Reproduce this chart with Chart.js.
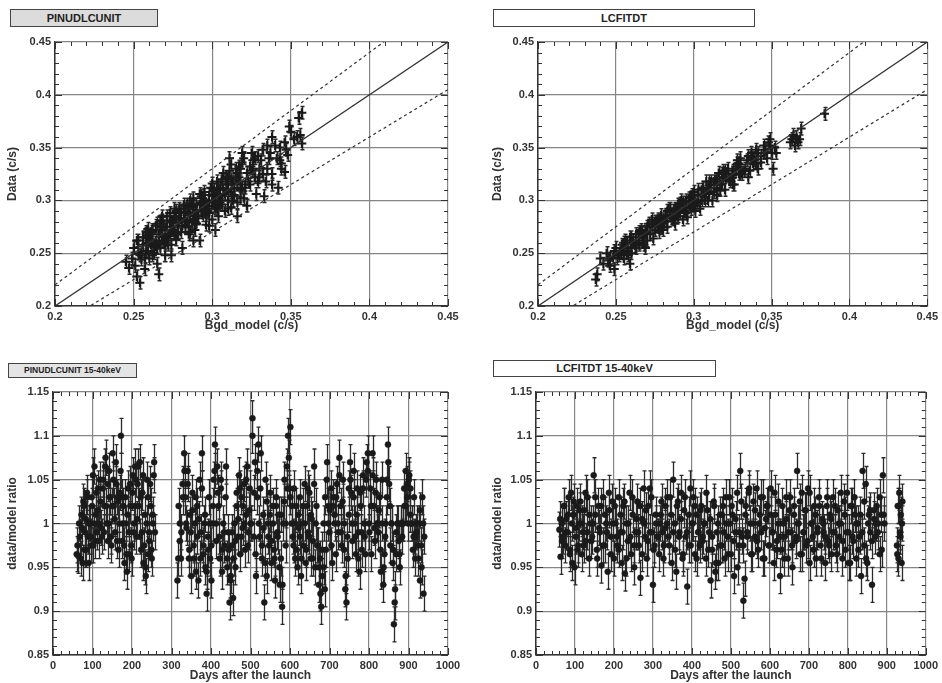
<!DOCTYPE html>
<html>
<head>
<meta charset="utf-8">
<script src="https://cdn.jsdelivr.net/npm/chart.js@4"></script>
<style>
body { margin: 0; background: #fff; width: 942px; height: 683px; position: relative; overflow: hidden; font-family: "Liberation Sans", Arial, sans-serif; }
.box { position: absolute; border: 1px solid #444; font-weight: bold; text-align: center; color: #222; box-sizing: border-box; white-space: nowrap; }
canvas { position: absolute; }
</style>
</head>
<body>
<div class="box" style="left:10px;top:9px;width:148px;height:18px;background:#dcdcdc;font-size:11px;line-height:16px">PINUDLCUNIT</div>
<div class="box" style="left:493px;top:9px;width:262px;height:18px;background:#fff;font-size:11px;line-height:16px">LCFITDT</div>
<div class="box" style="left:8px;top:363px;width:129px;height:15px;background:#e4e4e4;font-size:8.5px;line-height:13px">PINUDLCUNIT 15-40keV</div>
<div class="box" style="left:493px;top:360px;width:223px;height:17px;background:#fff;font-size:11px;line-height:15px">LCFITDT 15-40keV</div>

<canvas id="tl" width="471" height="303" style="left:0;top:30px"></canvas>
<canvas id="tr" width="452" height="303" style="left:490px;top:30px"></canvas>
<canvas id="bl" width="471" height="303" style="left:0;top:380px"></canvas>
<canvas id="br" width="452" height="303" style="left:490px;top:380px"></canvas>

<script>
// tick values
const bgdTicks = [0.2, 0.25, 0.3, 0.35, 0.4, 0.45];
const dayTicks = [0, 100, 200, 300, 400, 500, 600, 700, 800, 900, 1000];
const ratioTicks = [0.85, 0.9, 0.95, 1, 1.05, 1.1, 1.15];

// reference lines: data = slope * model
const refX = [0.2, 0.45];
const refSlopes = [1, 1.1, 0.9];

// PINUDLCUNIT: model vs data (c/s)
const modelTL = [0.245,0.247,0.249,0.251,0.252,0.253,0.254,0.255,0.256,0.257,0.258,0.259,0.260,0.261,0.262,0.263,0.264,0.265,0.266,0.267,0.268,0.269,0.270,0.271,0.272,0.273,0.274,0.275,0.276,0.277,0.278,0.279,0.280,0.281,0.282,0.283,0.284,0.285,0.286,0.287,0.288,0.289,0.290,0.291,0.292,0.293,0.294,0.295,0.296,0.297,0.298,0.299,0.300,0.301,0.302,0.303,0.304,0.305,0.306,0.307,0.308,0.309,0.310,0.311,0.312,0.313,0.314,0.315,0.316,0.317,0.318,0.319,0.320,0.322,0.324,0.326,0.328,0.330,0.332,0.334,0.336,0.338,0.340,0.342,0.344,0.346,0.348,0.350,0.352,0.355,0.356,0.357,0.357,0.322,0.333,0.316,0.302,0.288,0.274,0.266,0.270,0.275,0.280,0.285,0.290,0.295,0.300,0.305,0.310,0.276,0.283,0.293,0.298,0.304,0.312,0.262,0.258,0.268,0.278,0.288,0.296,0.306,0.318,0.327,0.335,0.343,0.338,0.346,
  0.250,0.252,0.254,0.256,0.258,0.260,0.262,0.264,0.266,0.268,0.270,0.272,0.274,0.276,0.278,0.280,0.282,0.284,0.286,0.288,0.290,0.292,0.294,0.296,0.298,0.300,0.302,0.304,0.306,0.308,0.310,0.312,0.314,0.316,0.318,0.320,0.323,0.326,0.329,0.332,0.335,0.338,0.341,0.344,0.347,0.253,0.257,0.261,0.265,0.269,0.273,0.277,0.281,0.285,0.289,0.293,0.297,0.301,0.305,0.309,0.313,0.317,0.321,0.325,0.329,0.259,0.263,0.267,0.271,0.279,0.287,0.295,0.303,0.311,0.319,
  0.255,0.258,0.261,0.264,0.267,0.270,0.273,0.276,0.279,0.282,0.285,0.288,0.291,0.294,0.297,0.300,0.303,0.306,0.309,0.312,0.315,0.318,0.321,0.324,0.327,0.330,0.256,0.259,0.262,0.265,0.268,0.271,0.274,0.277,0.280,0.283,0.286,0.289,0.292,0.295,0.298,0.301,0.304,0.307,0.310,0.313,0.316,0.319,0.325,0.331,0.337,0.343,0.349,0.354];
const dataTL = [0.242,0.236,0.245,0.238,0.228,0.250,0.222,0.244,0.258,0.235,0.252,0.266,0.245,0.258,0.272,0.250,0.262,0.240,0.268,0.255,0.281,0.262,0.248,0.275,0.266,0.288,0.258,0.272,0.284,0.263,0.276,0.292,0.270,0.255,0.283,0.275,0.296,0.268,0.286,0.279,0.302,0.272,0.291,0.283,0.262,0.298,0.286,0.308,0.277,0.295,0.288,0.312,0.282,0.300,0.293,0.318,0.285,0.305,0.296,0.326,0.290,0.310,0.300,0.340,0.293,0.318,0.305,0.330,0.298,0.322,0.310,0.345,0.302,0.326,0.315,0.338,0.306,0.330,0.348,0.318,0.340,0.325,0.352,0.312,0.335,0.355,0.343,0.365,0.358,0.378,0.362,0.354,0.383,0.295,0.304,0.285,0.272,0.262,0.248,0.230,0.266,0.279,0.282,0.288,0.296,0.300,0.305,0.311,0.315,0.270,0.289,0.291,0.298,0.300,0.320,0.262,0.260,0.272,0.268,0.282,0.292,0.318,0.330,0.322,0.330,0.350,0.360,0.327,
  0.255,0.262,0.248,0.265,0.270,0.262,0.248,0.276,0.260,0.285,0.272,0.258,0.280,0.292,0.268,0.289,0.296,0.280,0.270,0.294,0.278,0.306,0.298,0.286,0.276,0.316,0.304,0.296,0.320,0.306,0.292,0.334,0.312,0.326,0.302,0.340,0.318,0.330,0.342,0.325,0.352,0.315,0.340,0.330,0.348,0.262,0.246,0.268,0.255,0.278,0.268,0.285,0.276,0.294,0.280,0.304,0.290,0.310,0.298,0.322,0.304,0.332,0.315,0.345,0.318,0.273,0.256,0.280,0.262,0.288,0.295,0.305,0.292,0.328,0.312,
  0.250,0.268,0.262,0.256,0.275,0.258,0.280,0.268,0.282,0.292,0.275,0.295,0.285,0.302,0.292,0.298,0.310,0.300,0.318,0.308,0.322,0.318,0.312,0.332,0.340,0.322,0.265,0.252,0.270,0.278,0.265,0.285,0.272,0.290,0.288,0.280,0.300,0.288,0.296,0.290,0.305,0.295,0.312,0.310,0.322,0.300,0.315,0.336,0.328,0.338,0.345,0.338,0.370,0.360];

// LCFITDT: model vs data (c/s)
const modelTR = [0.237,0.238,0.240,0.242,0.244,0.246,0.248,0.249,0.250,0.252,0.254,0.255,0.256,0.258,0.259,0.260,0.262,0.263,0.265,0.266,0.268,0.269,0.270,0.272,0.273,0.275,0.276,0.278,0.279,0.280,0.282,0.283,0.284,0.286,0.287,0.288,0.290,0.291,0.292,0.294,0.295,0.296,0.298,0.299,0.300,0.302,0.303,0.304,0.306,0.307,0.308,0.310,0.311,0.312,0.314,0.315,0.316,0.318,0.319,0.320,0.322,0.323,0.325,0.326,0.328,0.329,0.330,0.332,0.334,0.335,0.337,0.338,0.340,0.341,0.343,0.345,0.347,0.348,0.350,0.351,0.352,0.362,0.364,0.365,0.366,0.368,0.369,0.384,0.260,0.265,0.270,0.275,0.280,0.285,0.290,0.295,0.300,0.305,0.310,0.315,0.320,0.325,0.330,0.257,0.267,0.277,0.289,0.297,0.309,0.317,0.327,0.336,0.246,0.253,0.274,0.293,0.301,0.313,
  0.245,0.249,0.253,0.257,0.261,0.265,0.269,0.273,0.277,0.281,0.285,0.289,0.293,0.297,0.301,0.305,0.309,0.313,0.317,0.321,0.325,0.329,0.333,0.337,0.341,0.345,0.349,0.251,0.255,0.259,0.263,0.267,0.271,0.279,0.283,0.287,0.291,0.295,0.299,0.303,0.307,0.311,0.315,0.319,0.323,0.327,0.331,0.339,0.346,0.363,0.367,
  0.255,0.260,0.265,0.270,0.275,0.280,0.285,0.290,0.295,0.300,0.305,0.310,0.315,0.320,0.325,0.330,0.335,0.340,0.258,0.263,0.268,0.273,0.278,0.283,0.288,0.293,0.298,0.303,0.308,0.313,0.318,0.323,0.328,0.333,0.338,0.343,0.349,0.353];
const dataTR = [0.225,0.230,0.245,0.240,0.250,0.238,0.246,0.235,0.255,0.248,0.258,0.245,0.262,0.252,0.240,0.265,0.257,0.268,0.260,0.272,0.265,0.255,0.275,0.268,0.282,0.272,0.280,0.270,0.286,0.278,0.285,0.275,0.292,0.283,0.290,0.278,0.296,0.288,0.300,0.290,0.298,0.284,0.303,0.295,0.308,0.298,0.305,0.292,0.312,0.303,0.318,0.306,0.315,0.300,0.320,0.312,0.326,0.315,0.322,0.310,0.330,0.320,0.328,0.315,0.335,0.325,0.340,0.328,0.338,0.322,0.345,0.335,0.348,0.330,0.342,0.352,0.340,0.355,0.345,0.330,0.350,0.355,0.362,0.352,0.360,0.358,0.368,0.382,0.255,0.265,0.268,0.278,0.282,0.286,0.290,0.293,0.300,0.305,0.312,0.318,0.322,0.324,0.332,0.250,0.262,0.275,0.285,0.296,0.300,0.310,0.330,0.328,0.245,0.252,0.264,0.282,0.290,0.308,
  0.243,0.252,0.250,0.260,0.262,0.258,0.270,0.275,0.282,0.280,0.290,0.292,0.295,0.302,0.298,0.310,0.312,0.318,0.315,0.325,0.322,0.335,0.330,0.340,0.345,0.345,0.352,0.245,0.255,0.265,0.255,0.270,0.278,0.274,0.290,0.282,0.297,0.288,0.305,0.300,0.300,0.318,0.310,0.328,0.318,0.332,0.325,0.338,0.348,0.358,0.355,
  0.260,0.250,0.270,0.262,0.280,0.272,0.292,0.285,0.300,0.295,0.300,0.318,0.305,0.328,0.315,0.325,0.342,0.335,0.248,0.268,0.258,0.278,0.282,0.280,0.292,0.298,0.292,0.310,0.308,0.315,0.325,0.318,0.338,0.330,0.340,0.336,0.358,0.345];

// PINUDLCUNIT 15-40keV: days vs data/model ratio
const daysBL = [60,64,68,72,75,78,81,84,87,90,93,96,99,102,105,108,111,114,117,120,124,127,130,133,136,139,142,145,148,151,154,157,160,163,166,169,172,175,178,181,184,187,190,193,196,199,202,205,208,211,214,217,220,223,226,229,232,235,238,241,244,247,250,253,256,258,
  315,318,321,324,328,332,335,338,341,344,347,350,353,356,359,362,365,368,371,374,377,380,383,386,389,392,395,398,401,404,407,410,413,416,419,422,425,428,431,434,438,441,444,447,450,453,456,459,462,465,468,471,474,477,480,483,486,489,492,495,498,501,505,508,511,514,517,520,523,526,529,532,535,538,541,544,547,550,553,556,559,562,565,568,571,574,577,580,583,586,589,592,595,598,601,604,607,610,613,616,619,622,625,628,631,634,637,640,643,646,649,652,655,658,661,664,667,670,673,676,679,682,685,688,691,694,697,700,704,707,710,713,716,719,722,725,728,731,734,737,740,743,746,749,752,755,758,761,764,767,770,773,776,779,782,785,788,791,794,797,800,803,806,809,812,815,818,821,824,827,830,833,836,839,842,845,848,851,854,857,860,863,866,869,872,875,878,881,884,887,890,893,896,899,902,905,908,911,914,917,920,923,926,929,932,935,938,940];
const ratioBL = [0.965,0.963,0.985,1.01,0.955,1.02,0.99,0.97,1.03,0.955,1.0,0.985,1.02,0.975,1.065,1.01,0.99,1.04,1.0,1.025,0.985,1.05,1.02,1.075,1.0,0.98,1.06,1.03,0.975,1.08,1.02,0.99,1.045,1.03,0.97,1.035,1.10,0.98,1.02,0.955,1.0,0.945,1.04,0.965,1.02,0.96,1.055,1.0,1.065,0.985,1.045,1.02,1.07,0.97,1.035,0.955,1.01,0.94,1.05,0.965,0.98,1.02,0.96,1.0,1.07,0.99,
  0.935,1.02,0.98,0.96,1.045,1.08,1.03,0.995,1.06,0.96,1.01,0.94,1.035,0.975,1.0,0.945,1.02,0.935,1.05,0.99,1.08,0.965,1.0,0.95,0.92,0.985,1.03,0.96,0.935,1.0,1.05,1.09,0.98,1.065,1.02,0.96,1.04,0.945,1.0,0.975,1.065,0.96,0.99,0.91,0.94,0.975,0.915,1.0,0.95,1.02,0.985,1.055,0.965,1.03,0.995,1.045,0.97,1.01,1.065,0.99,1.04,1.0,1.12,0.985,1.07,0.94,1.03,1.09,0.985,1.08,0.96,1.01,0.91,1.05,0.94,1.0,0.975,1.035,0.955,1.02,0.97,0.935,1.03,0.99,1.01,0.93,0.96,0.905,1.0,1.05,0.975,1.065,1.1,1.04,1.11,1.0,0.985,1.04,0.96,1.02,0.95,0.995,1.03,0.94,1.0,0.975,1.045,0.955,1.02,0.99,1.035,0.96,1.005,0.98,1.065,0.95,1.02,0.975,0.93,0.96,0.905,0.94,1.0,0.925,0.97,1.07,1.02,0.99,1.04,0.955,1.03,1.0,0.965,1.045,0.99,1.075,1.02,0.975,1.05,1.0,0.925,0.91,0.96,1.01,1.07,1.035,0.98,1.06,1.0,0.965,1.04,0.99,0.945,1.02,0.97,1.055,1.0,0.965,1.07,1.08,1.0,1.04,0.965,1.08,1.02,0.98,1.05,1.0,0.99,1.03,0.945,1.05,0.93,0.965,1.0,1.05,1.09,1.045,0.975,1.0,0.955,0.885,0.925,0.965,1.0,0.98,0.95,1.0,0.985,1.0,1.02,1.06,1.045,1.0,1.055,1.04,1.0,0.97,1.03,0.96,0.99,0.975,1.0,0.935,0.975,1.03,0.92,0.985];
const daysBL2 = [62,66,70,74,77,80,83,86,89,92,95,98,101,104,107,110,113,116,119,122,126,129,132,135,138,141,144,147,150,153,156,159,162,165,168,171,174,177,180,183,186,189,192,195,198,201,204,207,210,213,216,219,222,225,228,231,234,237,240,243,246,249,252,255,
  317,321,325,329,333,337,341,345,349,353,357,361,365,369,373,377,381,385,389,393,397,401,405,409,413,417,421,425,429,433,437,441,445,449,453,457,461,465,469,473,477,481,485,489,493,497,501,505,509,513,517,521,525,529,533,537,541,545,549,553,557,561,565,569,573,577,581,585,589,593,597,601,605,609,613,617,621,625,629,633,637,641,645,649,653,657,661,665,669,673,677,681,685,689,693,697,701,705,709,713,717,721,725,729,733,737,741,745,749,753,757,761,765,769,773,777,781,785,789,793,797,801,805,809,813,817,821,825,829,833,837,841,845,849,853,857,861,865,869,873,877,881,885,889,893,897,901,905,909,913,917,921,925,929,933,937];
const ratioBL2 = [0.975,1.0,0.96,0.995,1.025,0.97,1.005,1.035,0.985,1.0,0.975,1.03,1.055,1.0,0.98,1.035,1.015,0.98,1.05,0.995,1.04,0.99,1.065,1.02,1.045,1.0,1.03,0.985,1.02,1.05,1.005,1.07,0.98,1.025,1.0,1.06,1.03,1.0,0.975,1.03,0.965,1.01,0.99,1.045,0.975,1.035,0.99,1.02,1.05,1.005,1.065,0.985,1.03,0.99,1.055,0.975,0.95,1.0,1.03,0.99,1.045,0.97,1.01,1.055,
  0.96,1.0,0.99,1.03,1.06,1.0,1.045,0.97,0.99,1.015,
  0.96,1.03,0.985,1.005,0.96,1.04,0.975,1.01,0.945,0.97,
  1.0,0.975,1.02,1.06,1.0,1.035,0.985,1.05,0.97,0.99,
  1.03,0.95,0.97,0.935,0.99,0.96,0.98,1.035,1.005,1.04,
  0.985,1.02,1.0,1.05,0.975,1.015,1.0,1.1,1.035,0.965,
  1.06,1.0,1.04,0.975,0.995,0.955,1.025,0.985,1.01,0.98,
  1.0,0.96,1.02,0.985,0.95,1.01,0.93,1.025,1.0,1.04,
  1.075,1.03,1.02,0.975,1.0,0.97,1.01,0.985,0.96,1.02,
  1.0,0.97,1.04,0.985,1.01,0.96,1.045,1.0,0.975,0.95,
  0.92,0.97,0.95,1.03,1.05,1.0,1.015,0.975,1.02,1.01,
  1.03,1.0,1.055,0.99,1.025,0.97,0.94,0.985,1.04,1.05,
  1.0,1.03,0.985,1.01,0.96,1.035,0.99,1.04,0.985,1.05,
  1.06,0.99,1.02,1.055,0.995,1.035,1.0,1.015,0.97,1.0,
  0.95,0.985,1.03,1.07,1.02,1.0,0.97,0.91,0.99,1.0,
  0.965,1.0,1.0,1.04,1.02,1.03,1.05,1.01,1.0,0.985,
  0.985,1.0,0.96,1.015,0.95,1.0];

// LCFITDT 15-40keV: days vs data/model ratio
const daysBR = [60,63,66,69,72,75,78,81,84,87,90,93,96,99,102,105,108,111,114,117,120,124,128,132,136,140,144,148,152,156,160,164,168,172,176,180,184,188,192,196,200,204,208,212,216,220,224,228,232,236,240,244,248,252,256,260,264,268,272,276,280,284,288,292,296,300,304,308,312,316,320,324,328,332,336,340,344,348,352,356,360,364,368,372,376,380,384,388,392,396,400,404,408,412,416,420,424,428,432,436,440,444,448,452,456,460,464,468,472,476,480,484,488,492,496,500,504,508,512,516,520,524,528,532,535,538,542,546,550,554,558,562,566,570,574,578,582,586,590,594,598,602,606,610,614,618,622,626,630,634,638,642,646,650,654,658,662,666,670,674,678,682,686,690,694,698,702,706,710,714,718,722,726,730,734,738,742,746,750,754,758,762,766,770,774,778,782,786,790,794,798,802,806,810,814,818,822,826,830,834,838,842,846,850,854,858,862,866,870,874,878,882,886,890,894,926,928,930,932,934,936,938,940];
const ratioBR = [0.993,0.962,1.0,0.985,1.02,0.975,1.005,0.99,1.03,0.97,1.035,0.955,1.01,0.95,0.995,1.02,0.975,1.0,1.025,0.965,0.99,1.015,0.98,1.03,0.96,1.0,0.985,1.055,1.01,0.97,1.02,0.99,0.952,1.03,0.975,1.0,0.945,1.015,0.985,1.025,0.96,1.0,0.975,1.03,0.99,0.955,1.02,0.943,1.0,0.98,1.035,0.965,1.01,0.95,0.99,1.025,0.975,0.938,1.005,1.04,0.985,0.96,1.02,0.99,1.03,0.93,0.975,1.0,0.985,0.965,1.01,0.99,0.975,1.02,1.0,0.985,1.03,0.955,1.05,1.0,0.945,1.025,0.99,1.035,0.96,1.015,0.985,0.928,0.975,1.04,1.0,1.03,0.965,1.01,0.99,0.975,1.02,0.985,1.0,0.96,1.015,0.99,0.935,0.97,1.025,0.945,0.99,0.955,1.01,0.975,1.02,0.96,1.0,0.985,1.03,0.965,1.01,0.94,0.99,1.035,0.975,1.06,0.985,0.912,0.937,1.02,0.99,1.035,1.0,0.965,1.025,0.985,1.04,0.97,1.01,0.99,1.03,0.96,1.005,1.02,0.975,1.04,0.99,0.955,1.01,0.98,1.025,0.94,0.97,1.0,0.985,1.03,0.96,1.015,0.99,0.95,1.02,0.98,1.06,1.0,0.965,1.035,0.99,1.015,0.975,1.04,0.955,1.0,0.985,1.02,0.96,0.995,1.03,0.975,1.005,0.99,0.955,1.02,0.98,1.01,0.965,1.03,0.99,0.975,1.015,0.985,1.0,0.96,1.025,0.97,1.035,0.99,0.955,1.02,0.98,1.01,0.96,1.0,0.985,0.94,1.06,0.975,1.045,0.955,1.01,0.99,0.93,1.015,0.985,1.02,1.0,0.965,1.01,1.055,1.0,0.975,1.02,0.96,1.035,0.99,1.01,0.955,1.025];
const daysBR2 = [62,67,72,77,82,87,92,97,102,107,112,117,122,127,132,137,142,147,152,157,162,167,172,177,182,187,192,197,202,207,212,217,222,227,232,237,242,247,252,257,262,267,272,277,282,287,292,297,302,307,312,317,322,327,332,337,342,347,352,357,362,367,372,377,382,387,392,397,402,407,412,417,422,427,432,437,442,447,452,457,462,467,472,477,482,487,492,497,502,507,512,517,522,527,532,537,542,547,552,557,562,567,572,577,582,587,592,597,602,607,612,617,622,627,632,637,642,647,652,657,662,667,672,677,682,687,692,697,702,707,712,717,722,727,732,737,742,747,752,757,762,767,772,777,782,787,792,797,802,807,812,817,822,827,832,837,842,847,852,857,862,867,872,877,882,887,892,927,931,935,939];
const ratioBR2 = [1.005,0.98,1.02,0.99,1.01,0.965,1.0,1.025,0.985,0.97,
  1.015,1.0,0.975,1.035,0.99,1.01,0.98,1.0,1.03,0.96,
  0.995,1.02,0.975,1.01,0.99,1.035,0.965,1.0,1.02,0.985,
  0.97,1.01,0.99,1.025,0.96,1.0,0.985,1.03,0.975,1.005,
  0.99,1.02,0.965,1.0,1.015,0.98,1.04,0.99,0.97,1.01,
  0.985,1.0,1.025,0.96,0.995,1.03,0.975,1.01,0.99,0.97,
  1.02,0.985,1.005,0.965,1.03,0.99,1.01,0.975,1.0,1.02,
  0.96,0.99,1.015,0.98,1.0,1.035,0.97,1.005,0.985,1.02,
  0.955,1.0,0.975,1.01,0.99,1.03,0.965,1.0,1.02,0.98,
  1.005,0.95,0.99,1.025,0.975,1.01,0.985,1.04,0.965,1.0,
  1.015,0.98,1.0,1.03,0.96,0.995,1.02,0.975,1.01,0.99,
  1.035,0.97,1.0,0.985,1.02,0.96,1.005,0.99,1.03,0.975,
  1.01,0.985,1.0,1.025,0.965,0.99,1.015,0.98,1.035,1.0,
  0.97,1.01,0.99,1.02,0.96,1.0,0.985,1.03,0.975,1.005,
  0.99,1.02,0.965,1.0,1.035,0.98,1.01,0.99,0.955,1.02,
  0.985,1.03,1.0,0.97,1.01,0.99,1.025,0.96,1.0,1.015,
  0.98,1.005,1.0,0.99,1.03,0.97,1.01,0.965,1.02,0.985,
  1.0];

const errBgd = 0.006;
const errRatio = 0.02;

const ink = '#1a1a1a';
const font = { family: '"Liberation Sans", Arial, sans-serif', weight: 'bold' };

function pairs(xs, ys) {
    const n = Math.min(xs.length, ys.length);
    const out = [];
    for (let i = 0; i < n; i++) out.push({ x: xs[i], y: ys[i] });
    return out;
}

// vertical error bars with small caps, drawn under the markers
const errorBars = {
    id: 'errorBars',
    beforeDatasetsDraw(chart) {
        const { ctx, chartArea: a, scales: { x, y } } = chart;
        ctx.save();
        ctx.beginPath();
        ctx.rect(a.left, a.top, a.right - a.left, a.bottom - a.top);
        ctx.clip();
        chart.data.datasets.forEach(ds => {
            if (ds.err === undefined) return;
            ctx.strokeStyle = '#2a2a2a';
            ctx.lineWidth = ds.errWidth;
            ctx.beginPath();
            ds.data.forEach(p => {
                const px = Math.round(x.getPixelForValue(p.x)) + 0.5;
                const y1 = y.getPixelForValue(p.y - ds.err);
                const y2 = y.getPixelForValue(p.y + ds.err);
                ctx.moveTo(px, y1); ctx.lineTo(px, y2);
                ctx.moveTo(px - 2, y1); ctx.lineTo(px + 2, y1);
                ctx.moveTo(px - 2, y2); ctx.lineTo(px + 2, y2);
            });
            ctx.stroke();
        });
        ctx.restore();
    }
};

// IDL style minor ticks on all four sides
const minorTicks = {
    id: 'minorTicks',
    afterDraw(chart, args, opts) {
        const { ctx, chartArea: a, scales: { x, y } } = chart;
        ctx.save();
        ctx.strokeStyle = '#333';
        ctx.lineWidth = 1;
        ctx.beginPath();
        const mark = (scale, step, horiz) => {
            const n = Math.round((scale.max - scale.min) / step);
            for (let i = 0; i <= n; i++) {
                const p = Math.round(scale.getPixelForValue(scale.min + i * step)) + 0.5;
                const len = i % 5 === 0 ? 7 : 4;
                if (horiz) {
                    ctx.moveTo(p, a.bottom); ctx.lineTo(p, a.bottom - len);
                    ctx.moveTo(p, a.top); ctx.lineTo(p, a.top + len);
                } else {
                    ctx.moveTo(a.left, p); ctx.lineTo(a.left + len, p);
                    ctx.moveTo(a.right, p); ctx.lineTo(a.right - len, p);
                }
            }
        };
        mark(x, opts.x, true);
        mark(y, opts.y, false);
        ctx.stroke();
        ctx.restore();
    }
};

function axis(tickVals, title, size) {
    return {
        type: 'linear',
        min: tickVals[0],
        max: tickVals[tickVals.length - 1],
        afterBuildTicks: s => { s.ticks = tickVals.map(v => ({ value: v })); },
        afterFit: s => { if (s.isHorizontal()) s.height = size; else s.width = size; },
        grid: { color: '#858585', lineWidth: 1.2, drawTicks: false },
        border: { color: '#333', width: 1.5 },
        ticks: {
            color: '#333', padding: 4,
            font: { ...font, size: 11 },
            callback: v => String(+Number(v).toFixed(2))
        },
        title: { display: true, text: title, color: '#333', padding: 0, font: { ...font, size: 12 } }
    };
}

function refLines() {
    return refSlopes.map((k, i) => ({
        type: 'line',
        data: refX.map(v => ({ x: v, y: k * v })),
        borderColor: '#333',
        borderWidth: i === 0 ? 1.3 : 1.2,
        borderDash: i === 0 ? [] : [3, 3],
        pointRadius: 0,
        fill: false
    }));
}

function crosses(xs, ys) {
    return {
        data: pairs(xs, ys),
        err: errBgd,
        errWidth: 1.5,
        pointStyle: 'cross',
        pointRadius: 4.5,
        borderColor: ink,
        borderWidth: 2
    };
}

function dots(xs, ys) {
    return {
        data: pairs(xs, ys),
        err: errRatio,
        errWidth: 1.3,
        pointStyle: 'circle',
        pointRadius: 3,
        backgroundColor: ink,
        borderColor: ink,
        borderWidth: 0.5
    };
}

function panel(id, datasets, xTicks, yTicks, xTitle, yTitle, xH, yW, padLeft, padRight, minor) {
    new Chart(document.getElementById(id), {
        type: 'scatter',
        data: { datasets },
        options: {
            responsive: false,
            animation: false,
            events: [],
            layout: { padding: { top: 12, right: padRight, left: padLeft, bottom: 0 } },
            plugins: { legend: { display: false }, tooltip: { enabled: false }, minorTicks: minor },
            scales: {
                x: axis(xTicks, xTitle, xH),
                y: axis(yTicks, yTitle, yW)
            }
        },
        plugins: [errorBars, minorTicks]
    });
}

panel('tl', [...refLines(), crosses(modelTL, dataTL)], bgdTicks, bgdTicks, 'Bgd_model (c/s)', 'Data (c/s)', 27, 50, 5, 23, { x: 0.01, y: 0.01 });
panel('tr', [...refLines(), crosses(modelTR, dataTR)], bgdTicks, bgdTicks, 'Bgd_model (c/s)', 'Data (c/s)', 27, 48, 0, 12, { x: 0.01, y: 0.01 });
panel('bl', [dots(daysBL, ratioBL), dots(daysBL2, ratioBL2)], dayTicks, ratioTicks, 'Days after the launch', 'data/model ratio', 28, 48, 5, 23, { x: 20, y: 0.01 });
panel('br', [dots(daysBR, ratioBR), dots(daysBR2, ratioBR2)], dayTicks, ratioTicks, 'Days after the launch', 'data/model ratio', 28, 46, 0, 12, { x: 20, y: 0.01 });
</script>
</body>
</html>
